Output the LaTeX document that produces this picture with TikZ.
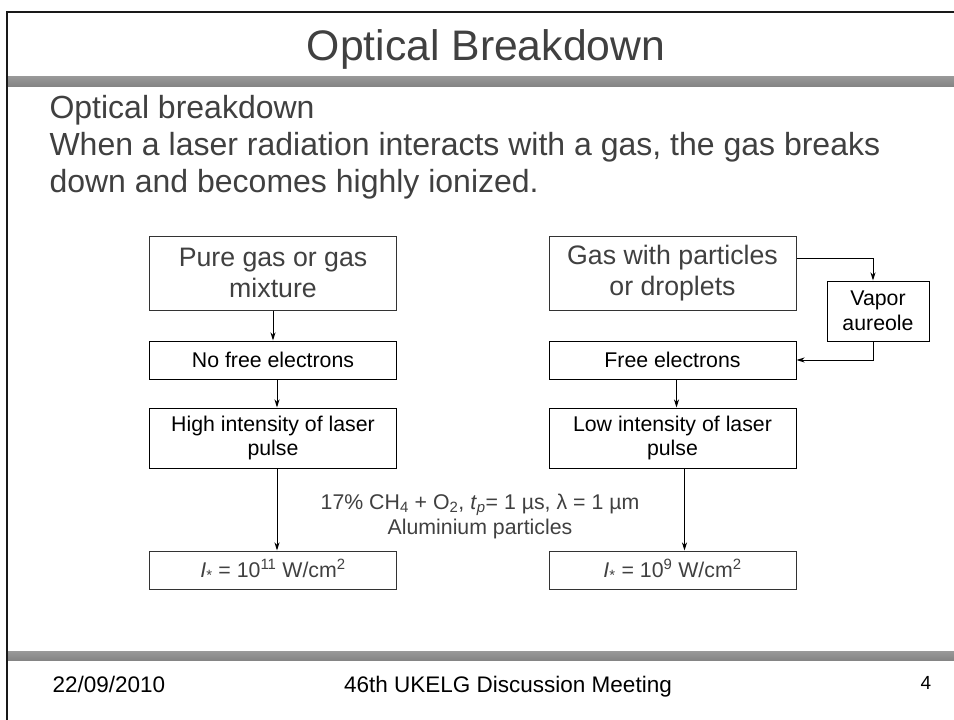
\documentclass[tikz,border=0pt]{standalone}
\usepackage{fontspec}
\setmainfont{Liberation Sans}
\usetikzlibrary{arrows.meta}

\definecolor{txtgray}{HTML}{404040}
\tikzset{
  bigbox/.style={draw=black!80, line width=1pt, minimum width=247pt, minimum height=74pt,
    align=center, inner sep=0pt, text=txtgray, font=\fontsize{26.7}{30.7}\selectfont},
  smallbox/.style={draw=black, line width=1pt, minimum width=247pt, minimum height=38pt,
    align=center, inner sep=0pt, font=\fontsize{21.3}{24.8}\selectfont},
  tallbox/.style={smallbox, minimum height=60pt},
  valbox/.style={smallbox, draw=black!80, text=txtgray},
  bodytext/.style={anchor=base west, text=txtgray, font=\fontsize{32}{37}\selectfont},
  foot/.style={font=\fontsize{22.5}{26}\selectfont},
  arr/.style={-{Stealth[length=8pt,width=5pt,inset=2.5pt]}, line width=1pt},
  bar/.style={top color=black!40, middle color=black!8, bottom color=black!48}
}

\begin{document}
\begin{tikzpicture}[x=1pt, y=-1pt]
  \useasboundingbox (0,0) rectangle (954,720);
  \fill[white] (0,0) rectangle (954,720);

  % slide frame and bars
  \draw[line width=2pt, black!90] (7,720) -- (7,11.5) -- (954,11.5);
  \shade[bar] (8,76) rectangle (954,86);
  \shade[bar] (8,651) rectangle (954,660);

  \node[anchor=base, text=txtgray, font=\fontsize{42.7}{49}\selectfont] (title) at (486,60) {Optical Breakdown};

  \node[bodytext] (line1) at (46,118) {Optical breakdown};
  \node[bodytext] (line2) at (46,155) {When a laser radiation interacts with a gas, the gas breaks};
  \node[bodytext] (line3) at (46,192) {down and becomes highly ionized.};

  % left column
  \node[bigbox] (pure) at (273,273) {Pure gas or gas\\mixture};
  \node[smallbox] (nofree) at (273,360) {No free electrons};
  \node[tallbox] (high) at (273,438) {High intensity of laser\\pulse};
  \node[valbox] (ihigh) at (273,570) {\textit{I}\textsubscript{*} = 10\textsuperscript{11} W/cm\textsuperscript{2}};

  % right column
  \node[bigbox] (gaspart) at (672.5,273) {Gas with particles\\or droplets};
  \node[smallbox, minimum width=102pt, minimum height=60pt] (vapor) at (878,311) {Vapor\\aureole};
  \node[smallbox] (free) at (672.5,360) {Free electrons};
  \node[tallbox] (low) at (672.5,438) {Low intensity of laser\\pulse};
  \node[valbox] (ilow) at (672.5,570) {\textit{I}\textsubscript{*} = 10\textsuperscript{9} W/cm\textsuperscript{2}};

  \node[align=center, text=txtgray, font=\fontsize{21.3}{25}\selectfont] (cond) at (480,516)
    {17\% CH\textsubscript{4} + O\textsubscript{2}, \textit{t}\textsubscript{\textit{p}}= 1 µs, λ = 1 µm\\Aluminium particles};

  \draw[arr] (pure.south) -- (nofree.north);
  \draw[arr] ([xshift=4pt]nofree.south) -- ([xshift=4pt]high.north);
  \draw[arr] ([xshift=4pt]high.south) -- ([xshift=4pt]ihigh.north);
  \draw[arr] ([yshift=15pt]gaspart.east) -| ([xshift=-5pt]vapor.north);
  \draw[arr] ([xshift=-5pt]vapor.south) |- (free.east);
  \draw[arr] ([xshift=4pt]free.south) -- ([xshift=4pt]low.north);
  \draw[arr] ([xshift=12pt]low.south) -- ([xshift=12pt]ilow.north);

  % footer
  \node[foot, anchor=base west] (date) at (49,692) {22/09/2010};
  \node[foot, anchor=base] (meeting) at (508,692) {46th UKELG Discussion Meeting};
  \node[anchor=base, font=\fontsize{19}{23}\selectfont] (page) at (926,689) {4};
\end{tikzpicture}
\end{document}
